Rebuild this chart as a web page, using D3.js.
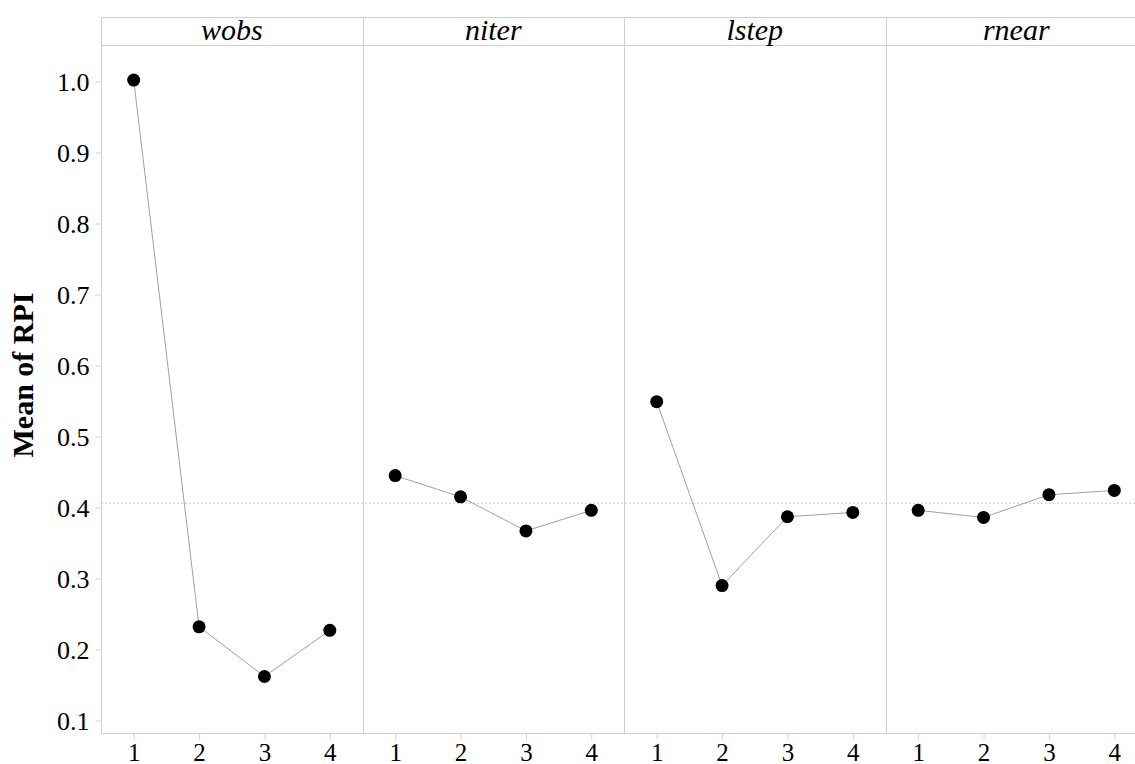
<!DOCTYPE html>
<html>
<head>
<meta charset="utf-8">
<script src="https://cdn.jsdelivr.net/npm/d3@7"></script>
<style>
  body { margin: 0; background: #fff; }
  svg { display: block; font-family: "Liberation Serif", "DejaVu Serif", serif; }
</style>
</head>
<body>
<script>
// factors and level means
var factors = ["wobs", "niter", "lstep", "rnear"];
var levels = [1, 2, 3, 4];
var wobsMeans = [1.002, 0.232, 0.162, 0.227];
var niterMeans = [0.445, 0.415, 0.367, 0.396];
var lstepMeans = [0.549, 0.290, 0.387, 0.393];
var rnearMeans = [0.396, 0.386, 0.418, 0.424];
var yTicks = [0.1, 0.2, 0.3, 0.4, 0.5, 0.6, 0.7, 0.8, 0.9, 1.0];
var grandMean = 0.406;

var allMeans = [wobsMeans, niterMeans, lstepMeans, rnearMeans];

var width = 1135,
    height = 764;

// plot frame
var left = 101,
    stripTop = 17,
    stripBottom = 45,
    bottom = 733,
    panelW = 261.5;

var svg = d3.select("body")
    .append("svg")
    .attr("width", width)
    .attr("height", height);

var y = d3.scaleLinear()
    .domain([0.1, 1.0])
    .range([720.5, 81.5]);

// each panel gets its own x scale
var panelX = d3.scaleBand()
    .domain(factors)
    .range([left, left + panelW * factors.length])
    .padding(0);

var border = "#cfcfcf";

// grand mean reference line (dotted)
svg.append("line")
    .attr("x1", left).attr("x2", width)
    .attr("y1", y(grandMean)).attr("y2", y(grandMean))
    .attr("stroke", "#c8c8c8")
    .attr("stroke-width", 1)
    .attr("stroke-dasharray", "2,2");

// strip lines
svg.append("line")
    .attr("x1", left).attr("x2", width)
    .attr("y1", stripTop + 0.5).attr("y2", stripTop + 0.5)
    .attr("stroke", border);
svg.append("line")
    .attr("x1", left).attr("x2", width)
    .attr("y1", stripBottom + 0.5).attr("y2", stripBottom + 0.5)
    .attr("stroke", border);

// left and bottom frame
svg.append("line")
    .attr("x1", left + 0.5).attr("x2", left + 0.5)
    .attr("y1", stripTop).attr("y2", bottom + 0.5)
    .attr("stroke", border);
svg.append("line")
    .attr("x1", left).attr("x2", width)
    .attr("y1", bottom + 0.5).attr("y2", bottom + 0.5)
    .attr("stroke", border);

// y axis
var yAxis = svg.append("g")
    .attr("transform", "translate(" + (left + 0.5) + ",0)")
    .call(d3.axisLeft(y).tickValues(yTicks).tickFormat(d3.format(".1f")).tickSize(6).tickPadding(6));
yAxis.attr("font-family", null);
yAxis.select(".domain").remove();
yAxis.selectAll(".tick line").attr("stroke", border);
yAxis.selectAll(".tick text")
    .attr("font-size", 26)
    .attr("fill", "#000")
    .attr("dy", "0.34em");

// y label
svg.append("text")
    .attr("transform", "translate(33,375) rotate(-90)")
    .attr("text-anchor", "middle")
    .attr("font-size", 30)
    .attr("font-weight", "bold")
    .text("Mean of RPI");

factors.forEach(function(f, i){
    var x0 = panelX(f);
    var x = d3.scaleLinear()
        .domain([0.5, 4.5])
        .range([x0, x0 + panelW]);

    // right divider of panel
    if (i < factors.length - 1) {
        svg.append("line")
            .attr("x1", Math.round(x0 + panelW) + 0.5).attr("x2", Math.round(x0 + panelW) + 0.5)
            .attr("y1", stripTop).attr("y2", bottom)
            .attr("stroke", border);
    }

    // strip title
    svg.append("text")
        .attr("x", x0 + panelW / 2)
        .attr("y", 40)
        .attr("text-anchor", "middle")
        .attr("font-size", 30)
        .attr("font-style", "italic")
        .text(f);

    // x axis
    var xAxis = svg.append("g")
        .attr("transform", "translate(0," + (bottom + 0.5) + ")")
        .call(d3.axisBottom(x).tickValues(levels).tickFormat(d3.format("d")).tickSize(6).tickPadding(4));
    xAxis.attr("font-family", null);
    xAxis.select(".domain").remove();
    xAxis.selectAll(".tick line").attr("stroke", border);
    xAxis.selectAll(".tick text")
        .attr("font-size", 25)
        .attr("fill", "#000");

    var pts = levels.map(function(l, j){ return [l, allMeans[i][j]]; });

    var line = d3.line()
        .x(function(d){ return x(d[0]); })
        .y(function(d){ return y(d[1]); });

    svg.append("path")
        .datum(pts)
        .attr("d", line)
        .attr("fill", "none")
        .attr("stroke", "#a0a0a0")
        .attr("stroke-width", 1);

    svg.selectAll(".pt" + i)
        .data(pts)
        .enter()
        .append("circle")
        .attr("cx", function(d){ return x(d[0]); })
        .attr("cy", function(d){ return y(d[1]); })
        .attr("r", 6.5)
        .attr("fill", "#000");
});
</script>
</body>
</html>
